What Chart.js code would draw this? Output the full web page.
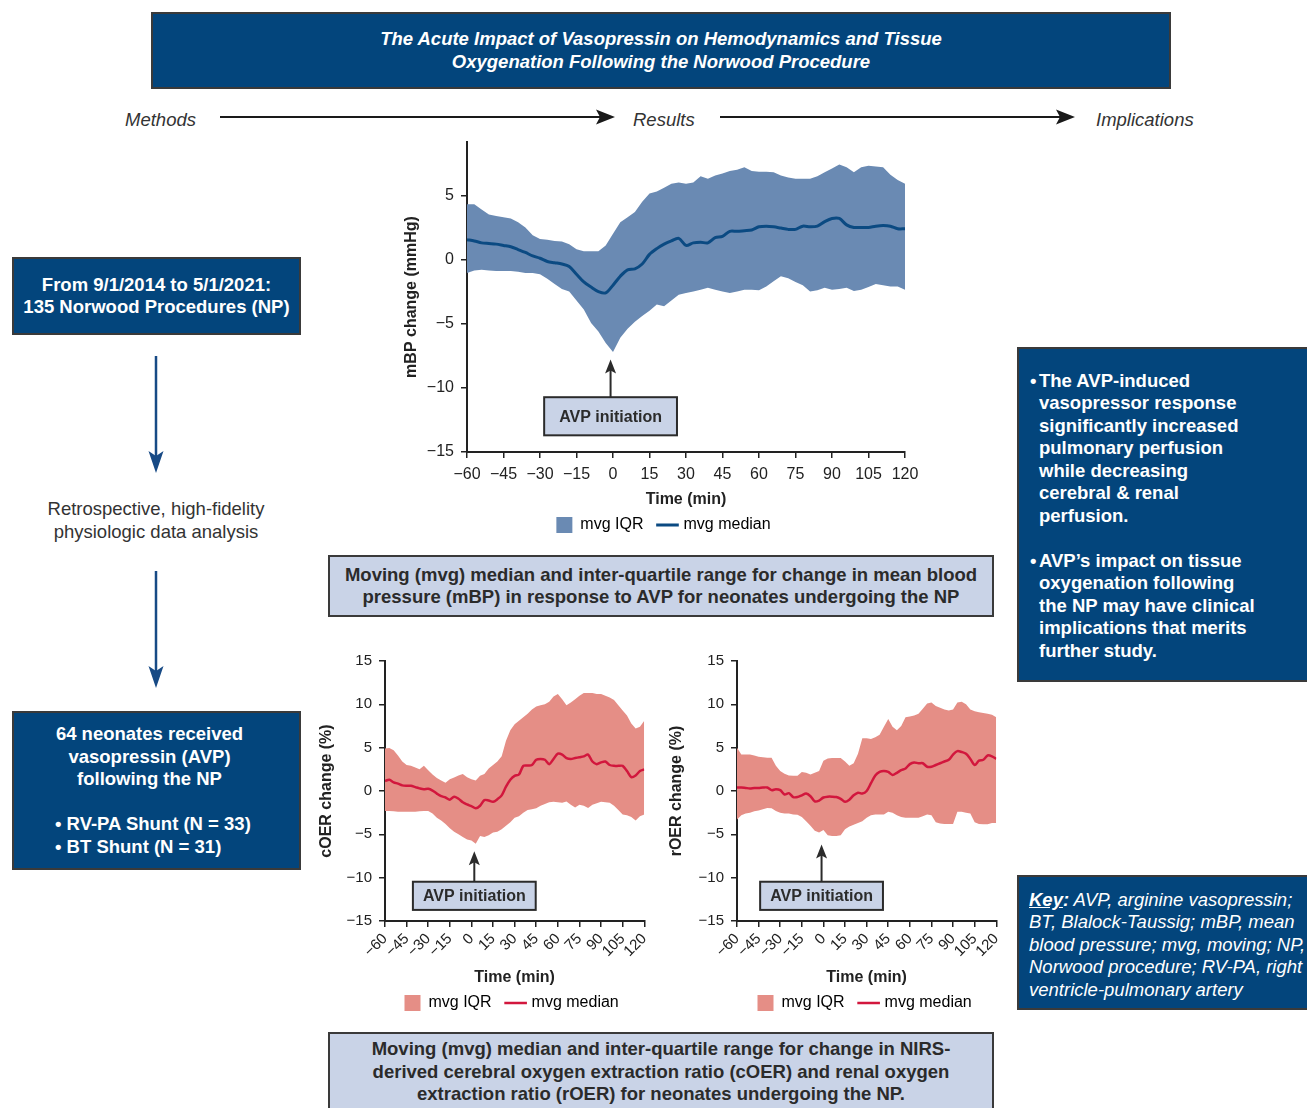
<!DOCTYPE html>
<html>
<head>
<meta charset="utf-8">
<script src="https://cdn.jsdelivr.net/npm/chart.js@4.4.1/dist/chart.umd.min.js"></script>
<style>
  html, body { margin: 0; padding: 0; background: #fff; }
  body { width: 1307px; height: 1108px; position: relative; overflow: hidden;
         font-family: "Liberation Sans", Arial, Helvetica, sans-serif; color: #2b2b2b; }
  .box { position: absolute; box-sizing: border-box; border: 2px solid #3a3a3a; }
  .dark { background: #03457c; color: #fff; font-weight: bold; font-size: 18.5px; line-height: 22.5px; }
  .light { background: #c9d3e7; color: #2b2b2b; font-weight: bold; font-size: 18.5px; line-height: 22.5px; text-align: center; }
  .center { display: flex; align-items: center; justify-content: center; text-align: center; }
  .flow { position: absolute; font-style: italic; font-size: 18.5px; line-height: 22px; color: #333; white-space: nowrap; }
  .para { position: relative; padding-left: 20px; }
  .para .dot { position: absolute; left: 11px; top: 0; }
  canvas { position: absolute; }
  svg { position: absolute; left: 0; top: 0; }
</style>
</head>
<body>

<div class="box dark center" style="left:151px;top:12px;width:1020px;height:77px;font-style:italic;">
  The Acute Impact of Vasopressin on Hemodynamics and Tissue<br>Oxygenation Following the Norwood Procedure
</div>

<div class="flow" style="left:125px;top:109px;">Methods</div>
<div class="flow" style="left:633px;top:109px;">Results</div>
<div class="flow" style="left:1096px;top:109px;">Implications</div>

<svg width="1307" height="1108">
  <g stroke="#1a1a1a" stroke-width="2" fill="#1a1a1a">
    <line x1="220" y1="117" x2="604" y2="117"/>
    <path d="M615 117 L596 109.5 L600 117 L596 124.5 Z" stroke="none"/>
    <line x1="720" y1="117" x2="1064" y2="117"/>
    <path d="M1075 117 L1056 109.5 L1060 117 L1056 124.5 Z" stroke="none"/>
  </g>
  <g stroke="#174a85" stroke-width="2.5" fill="#174a85">
    <line x1="156" y1="356" x2="156" y2="462"/>
    <path d="M156 473 L148.5 451 L156 456 L163.5 451 Z" stroke="none"/>
    <line x1="156" y1="571" x2="156" y2="677"/>
    <path d="M156 688 L148.5 666 L156 671 L163.5 666 Z" stroke="none"/>
  </g>
</svg>

<div class="box dark center" style="left:12px;top:257px;width:289px;height:78px;">
  From 9/1/2014 to 5/1/2021:<br>135 Norwood Procedures (NP)
</div>

<div style="position:absolute;left:0;top:497px;width:312px;text-align:center;font-size:18.5px;line-height:23px;color:#333;">
  Retrospective, high-fidelity<br>physiologic data analysis
</div>

<div class="box dark" style="left:12px;top:711px;width:289px;height:159px;display:flex;flex-direction:column;justify-content:center;">
  <div style="text-align:center;padding-right:14px;">64 neonates received<br>vasopressin (AVP)<br>following the NP</div>
  <div style="height:22.5px;"></div>
  <div style="padding-left:41px;">&bull; RV-PA Shunt (N = 33)<br>&bull; BT Shunt (N = 31)</div>
</div>

<div class="box dark" style="left:1017px;top:347px;width:330px;height:335px;display:flex;flex-direction:column;justify-content:center;padding-top:3px;">
  <div class="para"><span class="dot">&bull;</span>The AVP-induced<br>vasopressor response<br>significantly increased<br>pulmonary perfusion<br>while decreasing<br>cerebral &amp; renal<br>perfusion.</div>
  <div style="height:22.5px;"></div>
  <div class="para"><span class="dot">&bull;</span>AVP&rsquo;s impact on tissue<br>oxygenation following<br>the NP may have clinical<br>implications that merits<br>further study.</div>
</div>

<div class="box dark" style="left:1017px;top:875px;width:330px;height:135px;display:flex;flex-direction:column;justify-content:center;padding-left:10px;padding-top:5px;font-weight:normal;font-style:italic;">
  <div><b><u>Key</u>:</b> AVP, arginine vasopressin;<br>BT, Blalock-Taussig; mBP, mean<br>blood pressure; mvg, moving; NP,<br>Norwood procedure; RV-PA, right<br>ventricle-pulmonary artery</div>
</div>

<div class="box light center" style="left:328px;top:555px;width:666px;height:62px;">
  Moving (mvg) median and inter-quartile range for change in mean blood<br>pressure (mBP) in response to AVP for neonates undergoing the NP
</div>

<div class="box light" style="left:328px;top:1032px;width:666px;height:95px;padding-top:4px;">
  Moving (mvg) median and inter-quartile range for change in NIRS-<br>derived cerebral oxygen extraction ratio (cOER) and renal oxygen<br>extraction ratio (rOER) for neonates undergoing the NP.
</div>

<canvas id="mbpChart" width="542" height="425" style="left:398px;top:130px;width:542px;height:425px;"></canvas>
<canvas id="coerChart" width="347" height="383" style="left:313px;top:650px;width:347px;height:383px;"></canvas>
<canvas id="roerChart" width="349" height="383" style="left:663px;top:650px;width:349px;height:383px;"></canvas>

<script>
// Time relative to AVP initiation (min)
const minutes = [-60,-57,-54,-51,-48,-45,-42,-39,-36,-33,-30,-27,-24,-21,-18,-15,-12,-9,-6,-3,
                 0,3,6,9,12,15,18,21,24,27,30,33,36,39,42,45,48,51,54,57,
                 60,63,66,69,72,75,78,81,84,87,90,93,96,99,102,105,108,111,114,117,120];
const timeTicks = [-60,-45,-30,-15,0,15,30,45,60,75,90,105,120];

// Change in mean blood pressure (mmHg)
const mbpUpper  = [4.3,4.3,3.9,3.5,3.4,3.3,3.2,2.9,2.5,1.9, 1.6,1.55,1.45,1.4,1.2,0.8,0.65,0.65,0.65,1.1,
                   2.0,2.9,3.3,3.7,4.5,5.15,5.3,5.6,5.9,6.0, 5.9,6.0,6.5,6.3,6.55,6.7,6.9,7.0,7.2,6.9,
                   6.85,6.85,6.8,6.55,6.4,6.3,6.3,6.3,6.5,6.8, 7.1,7.4,7.2,6.8,7.2,7.3,7.25,7.2,6.6,6.2,5.9];
const mbpLower  = [-1.05,-0.85,-0.8,-0.85,-0.9,-0.9,-0.9,-0.95,-1.05,-1.05, -1.15,-1.5,-1.9,-2.3,-2.5,-3.2,-3.9,-4.95,-5.6,-6.5,
                   -7.2,-6.1,-5.4,-4.85,-4.4,-4.0,-3.5,-3.65,-3.2,-2.75, -2.6,-2.5,-2.35,-2.2,-2.35,-2.5,-2.6,-2.5,-2.35,-2.35,
                   -2.4,-2.1,-1.7,-1.3,-1.45,-1.75,-2.0,-2.5,-2.4,-2.2, -2.35,-2.3,-2.2,-2.45,-2.35,-2.15,-1.9,-2.0,-2.1,-2.1,-2.35];
const mbpMedian = [1.55,1.45,1.3,1.25,1.2,1.1,1.0,0.78,0.55,0.28, 0.1,-0.15,-0.25,-0.35,-0.55,-1.15,-1.75,-2.15,-2.5,-2.6,
                   -2.0,-1.3,-0.8,-0.72,-0.35,0.4,0.85,1.2,1.45,1.65, 1.1,1.3,1.35,1.3,1.7,1.8,2.2,2.2,2.25,2.3,
                   2.55,2.6,2.55,2.45,2.35,2.35,2.6,2.55,2.6,2.95, 3.2,3.2,2.7,2.5,2.5,2.5,2.6,2.65,2.6,2.4,2.4];

// Change in cerebral oxygen extraction ratio (%)
const coerUpper  = [4.9,4.95,4.7,4.1,3.4,3.0,2.9,2.7,2.5,2.9, 2.4,1.9,1.5,1.2,0.95,1.35,1.55,1.8,1.95,1.6,
                    1.35,1.2,1.75,1.95,2.6,3.0,3.4,4.0,5.8,7.0, 7.7,8.1,8.5,8.9,9.4,9.75,9.9,10.0,10.3,10.9,
                    11.2,10.6,9.9,10.2,10.6,11.0,11.3,11.3,11.3,11.2, 11.2,11.0,10.8,10.5,9.9,9.3,8.7,7.8,7.2,7.4,8.1];
const coerLower  = [-2.3,-2.3,-2.35,-2.4,-2.4,-2.4,-2.4,-2.4,-2.35,-2.3, -2.3,-2.6,-3.1,-3.4,-3.8,-4.3,-4.7,-5.0,-5.3,-5.6,
                    -5.7,-6.1,-5.2,-5.3,-5.1,-4.8,-4.7,-4.4,-4.0,-3.6, -3.1,-2.9,-2.5,-2.2,-2.1,-2.0,-1.7,-1.5,-1.3,-1.25,
                    -1.3,-1.35,-1.2,-1.6,-1.9,-1.6,-1.7,-1.95,-1.6,-1.4, -1.25,-1.3,-1.35,-1.7,-2.2,-2.7,-2.8,-3.0,-3.4,-2.9,-2.7];
const coerMedian = [1.15,1.3,1.0,0.85,0.65,0.6,0.6,0.45,0.3,0.2, 0.25,0.05,-0.3,-0.6,-0.75,-1.0,-0.65,-0.9,-1.3,-1.55,
                    -1.75,-2.0,-1.7,-1.05,-1.1,-1.25,-0.95,-0.5,0.5,1.3, 1.75,1.9,2.9,2.95,3.0,3.6,3.7,3.6,3.1,3.7,
                    4.3,4.2,3.8,3.7,3.8,3.9,4.0,4.2,3.4,3.1, 3.3,3.4,3.0,2.9,2.9,2.9,2.3,1.6,1.8,2.3,2.5];

// Change in renal oxygen extraction ratio (%)
const roerUpper  = [5.0,4.2,4.2,4.2,4.1,3.95,3.9,3.85,3.85,2.9, 2.3,2.0,1.8,1.75,1.75,2.2,2.1,1.9,2.1,2.3,
                    3.5,3.75,3.8,3.8,3.8,3.4,2.9,3.2,4.3,6.1, 6.1,6.0,6.2,6.5,7.4,8.3,7.4,7.0,7.5,8.5,
                    8.6,8.7,8.9,9.5,10.1,10.2,9.8,9.6,9.4,9.3, 9.4,10.2,10.3,10.0,9.4,9.2,9.1,9.0,8.9,8.8,8.5];
const roerLower  = [-3.3,-2.8,-2.6,-2.5,-2.35,-2.25,-2.1,-1.95,-2.0,-2.3, -2.5,-2.6,-2.6,-2.7,-2.75,-3.0,-3.5,-4.0,-4.6,-4.8,
                    -4.5,-5.1,-5.2,-5.2,-5.1,-4.4,-4.1,-3.9,-3.7,-3.5, -3.1,-2.8,-2.7,-2.7,-2.7,-2.4,-2.5,-2.8,-3.0,-3.1,
                    -3.1,-3.1,-3.1,-2.9,-2.7,-2.8,-3.6,-3.75,-3.8,-3.8, -3.8,-2.4,-2.4,-2.5,-2.6,-3.6,-3.8,-3.85,-3.85,-3.7,-3.7];
const roerMedian = [0.4,0.4,0.35,0.3,0.35,0.35,0.4,0.4,0.1,0.2, 0.1,-0.4,-0.25,-0.7,-0.7,-0.5,-0.3,-0.6,-1.2,-1.1,
                    -0.75,-0.65,-0.65,-0.7,-0.9,-1.25,-1.0,-0.5,-0.2,-0.3, 0.0,0.9,1.8,2.2,2.3,2.2,1.85,2.1,2.4,2.6,
                    3.1,3.3,3.2,3.2,2.8,2.8,3.0,3.2,3.4,3.6, 4.2,4.6,4.5,4.3,3.7,3.0,3.5,3.6,4.1,4.0,3.7];

const FONT = '"Liberation Sans", Arial, Helvetica, sans-serif';
Chart.defaults.font.family = FONT;
Chart.defaults.color = '#222';

const minusSign = v => (v < 0 ? '\u2212' + Math.abs(v) : String(v));

// Boxed "AVP initiation" label with an arrow pointing up at the band
const avpMarker = {
  id: 'avpMarker',
  afterDatasetsDraw(chart, args, o) {
    const { ctx, scales: { x, y } } = chart;
    const px = x.getPixelForValue(o.at);
    const tipY = y.getPixelForValue(o.tip);
    const top = y.getPixelForValue(o.boxTop);
    const bottom = y.getPixelForValue(o.boxBottom);
    ctx.save();
    ctx.font = 'bold 16px ' + FONT;
    const w = ctx.measureText(o.text).width + o.padX * 2;
    ctx.fillStyle = '#c9d3e7';
    ctx.fillRect(px - w / 2, top, w, bottom - top);
    ctx.strokeStyle = '#2b2b2b';
    ctx.lineWidth = 2;
    ctx.strokeRect(px - w / 2, top, w, bottom - top);
    ctx.fillStyle = '#2b2b2b';
    ctx.textAlign = 'center';
    ctx.textBaseline = 'middle';
    ctx.fillText(o.text, px, (top + bottom) / 2 + 1);
    ctx.beginPath();
    ctx.moveTo(px, top);
    ctx.lineTo(px, tipY + 10);
    ctx.stroke();
    ctx.beginPath();
    ctx.moveTo(px, tipY);
    ctx.lineTo(px - 5.5, tipY + 14);
    ctx.lineTo(px, tipY + 11);
    ctx.lineTo(px + 5.5, tipY + 14);
    ctx.closePath();
    ctx.fill();
    ctx.restore();
  }
};

// Moves the legend block after layout
const legendNudge = {
  id: 'legendNudge',
  afterLayout(chart, args, o) {
    const l = chart.legend;
    if (!l) return;
    l.left += o.dx; l.right += o.dx;
    l.top += o.dy; l.bottom += o.dy;
  }
};

function buildChart(id, c) {
  const axisLine = { color: '#222', width: 2 };
  const tickGrid = { drawOnChartArea: false, drawTicks: true, tickLength: 6, color: '#222', lineWidth: 1.5 };
  return new Chart(document.getElementById(id), {
    type: 'line',
    data: {
      labels: minutes,
      datasets: [
        { label: 'mvg median', data: c.median, borderColor: c.lineColor, borderWidth: c.lineWidth,
          pointRadius: 0, tension: 0.3, fill: false },
        { label: 'mvg IQR', data: c.upper, borderColor: c.bandColor, backgroundColor: c.bandColor,
          borderWidth: 0, pointRadius: 0, tension: 0, fill: '+1' },
        { label: 'IQR lower', data: c.lower, borderColor: c.bandColor, backgroundColor: c.bandColor,
          borderWidth: 0, pointRadius: 0, tension: 0, fill: false }
      ]
    },
    options: {
      responsive: false,
      animation: false,
      events: [],
      layout: { padding: { top: c.padTop, right: c.padRight, left: 0, bottom: 0 } },
      scales: {
        x: {
          type: 'linear', min: -60, max: 120,
          border: axisLine, grid: tickGrid,
          afterBuildTicks: s => { s.ticks = timeTicks.map(v => ({ value: v })); },
          ticks: { autoSkip: false, color: '#222', font: { size: c.xTickSize }, padding: c.xTickPad,
                   minRotation: c.rotation, maxRotation: c.rotation, callback: minusSign },
          title: { display: true, text: 'Time (min)', color: '#222', font: { size: 16, weight: 'bold' } },
          afterFit: s => { s.height = c.xAxisH; }
        },
        y: {
          min: -15, max: c.yMax,
          border: axisLine, grid: tickGrid,
          ticks: { stepSize: 5, includeBounds: false, color: '#222', font: { size: c.yTickSize }, padding: 7,
                   callback: minusSign },
          title: { display: true, text: c.yTitle, color: '#222', font: { size: 16, weight: 'bold' } },
          afterFit: s => { s.width = c.yAxisW; s.paddingTop = 0; s.paddingBottom = 0; }
        }
      },
      plugins: {
        tooltip: { enabled: false },
        legend: {
          position: 'bottom', fullSize: false,
          labels: {
            usePointStyle: true, padding: 16, color: '#333', font: { size: 16 },
            generateLabels: chart => {
              const ds = chart.data.datasets;
              return [
                { text: ds[1].label, fillStyle: ds[1].backgroundColor, strokeStyle: ds[1].backgroundColor,
                  lineWidth: 0, pointStyle: 'rect', hidden: false, datasetIndex: 1 },
                { text: ds[0].label, fillStyle: ds[0].borderColor, strokeStyle: ds[0].borderColor,
                  lineWidth: ds[0].borderWidth, pointStyle: 'line', hidden: false, datasetIndex: 0 }
              ];
            }
          }
        },
        avpMarker: c.marker,
        legendNudge: c.nudge
      }
    },
    plugins: [avpMarker, legendNudge]
  });
}

buildChart('mbpChart', {
  upper: mbpUpper, lower: mbpLower, median: mbpMedian,
  bandColor: '#6a8ab3', lineColor: '#0b4a82', lineWidth: 3,
  yTitle: 'mBP change (mmHg)', yMax: 9.16,
  padTop: 12, padRight: 35, yAxisW: 69, xAxisH: 61,
  xTickSize: 16, yTickSize: 16, xTickPad: 7, rotation: 0,
  marker: { at: -1, tip: -7.8, boxTop: -10.73, boxBottom: -13.7, padX: 15, text: 'AVP initiation' },
  nudge: { dx: -22.5, dy: -12 }
});

buildChart('coerChart', {
  upper: coerUpper, lower: coerLower, median: coerMedian,
  bandColor: '#e58e86', lineColor: '#d2173d', lineWidth: 2.5,
  yTitle: 'cOER change (%)', yMax: 15,
  padTop: 11, padRight: 15, yAxisW: 72, xAxisH: 70,
  xTickSize: 15, yTickSize: 15, xTickPad: 3, rotation: 45,
  marker: { at: 2, tip: -6.95, boxTop: -10.47, boxBottom: -13.72, padX: 10, text: 'AVP initiation' },
  nudge: { dx: -3, dy: -12 }
});

buildChart('roerChart', {
  upper: roerUpper, lower: roerLower, median: roerMedian,
  bandColor: '#e58e86', lineColor: '#d2173d', lineWidth: 2.5,
  yTitle: 'rOER change (%)', yMax: 15,
  padTop: 11, padRight: 15, yAxisW: 74, xAxisH: 70,
  xTickSize: 15, yTickSize: 15, xTickPad: 3, rotation: 45,
  marker: { at: -1.3, tip: -6.16, boxTop: -10.47, boxBottom: -13.72, padX: 10, text: 'AVP initiation' },
  nudge: { dx: -2, dy: -12 }
});
</script>
</body>
</html>
